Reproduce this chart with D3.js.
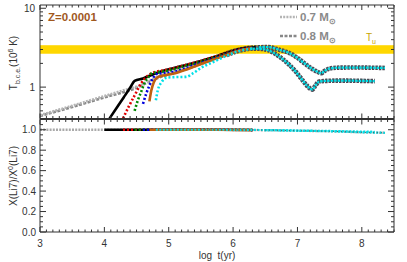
<!DOCTYPE html>
<html><head><meta charset="utf-8">
<script src="https://cdn.jsdelivr.net/npm/d3@7"></script>
<style>body{margin:0;background:#fff} svg{display:block;font-family:"Liberation Sans",Arial,sans-serif}</style>
</head><body><svg id="c" width="407" height="262"></svg>
<script>
// ---------- data ----------
const xTickVals = [3, 4, 5, 6, 7, 8];
const yTopTickVals = [1, 10];
const yBotTickVals = [0, 0.2, 0.4, 0.6, 0.8, 1.0];
const bandT = [2.65, 3.4];

// standard tracks (log t, T_bce in 10^6 K)
const t07 = [3.0, 3.5, 4.0, 4.3, 4.55, 4.7, 4.85, 5.0, 5.2, 5.4, 5.6, 5.8, 6.0, 6.2, 6.4, 6.55, 6.7, 6.88, 7.0, 7.11, 7.22, 7.3, 7.37, 7.42, 7.5, 7.6, 7.8, 8.0, 8.2, 8.36];
const T07 = [0.44, 0.58, 0.77, 0.91, 1.05, 1.2, 1.38, 1.55, 1.75, 1.95, 2.2, 2.5, 2.85, 3.1, 3.2, 3.22, 3.0, 2.69, 2.35, 2.0, 1.72, 1.58, 1.5, 1.6, 1.72, 1.76, 1.77, 1.77, 1.76, 1.75];
const t08 = [3.0, 3.5, 4.0, 4.5, 4.8, 5.0, 5.3, 5.6, 5.9, 6.1, 6.3, 6.45, 6.54, 6.7, 6.88, 6.98, 7.08, 7.16, 7.23, 7.28, 7.34, 7.45, 7.7, 8.0, 8.2];
const T08 = [0.43, 0.56, 0.74, 0.98, 1.28, 1.45, 1.72, 2.1, 2.55, 2.9, 3.08, 3.05, 2.94, 2.5, 1.89, 1.55, 1.22, 1.02, 0.93, 1.05, 1.18, 1.2, 1.21, 1.2, 1.19];

// accreting models (early parts)
const tBlack = [4.08, 4.2, 4.3, 4.4, 4.47, 4.6, 4.8, 5.0, 5.2, 5.5, 5.8, 6.0, 6.2, 6.35];
const TBlack = [0.40, 0.56, 0.74, 0.98, 1.2, 1.29, 1.5, 1.68, 1.85, 2.15, 2.55, 2.9, 3.12, 3.2];
const tRed = [4.29, 4.38, 4.47, 4.57, 4.68, 4.78, 4.9, 5.0, 5.2, 5.5, 5.8, 6.1, 6.3];
const TRed = [0.40, 0.57, 0.785, 1.11, 1.41, 1.55, 1.62, 1.68, 1.85, 2.15, 2.55, 3.0, 3.17];
const tGreen = [4.47, 4.52, 4.57, 4.62, 4.68, 4.73, 4.85, 5.0, 5.2, 5.5, 5.8, 6.1, 6.3];
const TGreen = [0.5, 0.68, 0.865, 1.11, 1.32, 1.48, 1.55, 1.62, 1.8, 2.1, 2.5, 2.95, 3.15];
const tBlue = [4.6, 4.65, 4.7, 4.75, 4.83, 4.95, 5.1, 5.3, 5.6, 5.9, 6.1, 6.3];
const TBlue = [0.615, 0.824, 1.05, 1.28, 1.48, 1.5, 1.58, 1.78, 2.15, 2.6, 2.95, 3.12];
const tOrange = [4.70, 4.73, 4.77, 4.83, 4.95, 5.1, 5.3, 5.6, 5.9, 6.1, 6.3];
const TOrange = [0.66, 0.91, 1.16, 1.34, 1.42, 1.5, 1.7, 2.1, 2.55, 2.92, 3.1];
const tCyan = [4.80, 4.83, 4.89, 4.97, 5.1, 5.27, 5.38, 5.5, 5.7, 5.9, 6.1, 6.3];
const TCyan = [0.68, 0.91, 1.16, 1.32, 1.34, 1.35, 1.5, 1.75, 2.1, 2.5, 2.88, 3.08];

// lithium ratio
const liGreyT = [3.0, 4.0, 5.0, 6.0, 6.5, 7.0, 7.5, 8.0, 8.36];
const liGreyV = [1.0, 1.0, 1.0, 0.998, 0.995, 0.99, 0.985, 0.975, 0.97];
const liBlackT = [4.0, 4.6, 5.5, 6.3];
const liBlackV = [1.0, 1.0, 1.0, 0.998];
const liRedT = [4.29, 5.0, 6.3];
const liRedV = [1.0, 1.0, 0.998];
const liGreenT = [4.47, 5.0, 6.3];
const liGreenV = [1.0, 1.0, 0.998];
const liBlueT = [4.6, 5.3, 6.3];
const liBlueV = [1.0, 1.0, 0.998];
const liOrangeT = [4.7, 5.3, 6.3];
const liOrangeV = [1.0, 1.0, 0.998];
const liCyanT = [4.8, 5.5, 6.5, 7.0, 7.5, 8.0, 8.36];
const liCyanV = [1.0, 1.0, 0.997, 0.99, 0.985, 0.975, 0.97];
const liCyan8T = [6.5, 7.0, 7.5, 8.0, 8.2];
const liCyan8V = [0.997, 0.992, 0.988, 0.982, 0.98];

// ---------- layout ----------
const L = 40, R = 394, T1 = 5, B1 = 118.5, T2 = 119.5, B2 = 232;
const svg = d3.select("#c");
const x = d3.scaleLinear([3, 8.5], [L, R]);
const yT = d3.scaleLog([0.4, 11], [B1, T1]);
const yL = d3.scaleLinear([0, 1.1], [B2, T2]);

const defs = svg.append("defs");
defs.append("clipPath").attr("id", "cp1").append("rect").attr("x", L).attr("y", T1).attr("width", R - L).attr("height", B1 - T1);
defs.append("clipPath").attr("id", "cp2").append("rect").attr("x", L).attr("y", T2).attr("width", R - L).attr("height", B2 - T2);

const g1 = svg.append("g").attr("clip-path", "url(#cp1)");
const g2 = svg.append("g").attr("clip-path", "url(#cp2)");

// band
g1.append("rect").attr("x", L).attr("width", R - L)
  .attr("y", yT(bandT[1])).attr("height", yT(bandT[0]) - yT(bandT[1]))
  .attr("fill", "#ffd700");

const zip = (a, b) => a.map((v, i) => [v, b[i]]);
const lineT = d3.line().x(d => x(d[0])).y(d => yT(d[1])).curve(d3.curveMonotoneX);
const lineL = d3.line().x(d => x(d[0])).y(d => yL(d[1])).curve(d3.curveMonotoneX);

function draw(g, gen, data, color, w, dash) {
  g.append("path").attr("d", gen(data)).attr("fill", "none")
    .attr("stroke", color).attr("stroke-width", w)
    .attr("stroke-dasharray", dash || null).attr("stroke-linejoin", "round");
}

// tracks
const d07 = zip(t07, T07), d08 = zip(t08, T08);
draw(g1, lineT, d08, "#888", 2.6, "3,1.5");
draw(g1, lineT, d07, "#b4b4b4", 2.6, "2,1.2");
// branch outlines
draw(g1, lineT, d07.filter(d => d[0] >= 5.8), "#4a4a55", 4.6, "2.5,1");
draw(g1, lineT, d08.filter(d => d[0] >= 5.8), "#4a4a55", 4.6, "2.5,1");

// models
draw(g1, lineT, zip(tBlack, TBlack), "#000", 2.6);
draw(g1, lineT, zip(tRed, TRed), "#e00000", 2.6, "2,2");
draw(g1, lineT, zip(tGreen, TGreen), "#008800", 2.6, "2,2");
draw(g1, lineT, zip(tBlue, TBlue), "#0000dd", 2.6, "2,2");
draw(g1, lineT, zip(tOrange, TOrange), "#c06010", 2.6);
draw(g1, lineT, zip(tCyan, TCyan), "#00e0e8", 2.6, "2,2");
draw(g1, lineT, d07.filter(d => d[0] >= 6.3), "#00e0e8", 2.2, "2.5,1");
draw(g1, lineT, d08.filter(d => d[0] >= 6.3), "#00e0e8", 2.2, "2.5,1");

// lithium
draw(g2, lineL, zip(liGreyT, liGreyV), "#aaa", 2.4, "2,1.2");
draw(g2, lineL, zip(liBlackT, liBlackV), "#000", 2.4);
draw(g2, lineL, zip(liRedT, liRedV), "#e00000", 2.4, "2,2");
draw(g2, lineL, zip(liGreenT, liGreenV), "#008800", 2.4, "2,2");
draw(g2, lineL, zip(liBlueT, liBlueV), "#0000dd", 2.4, "2,2");
draw(g2, lineL, zip(liOrangeT, liOrangeV), "#c06010", 2.4);
draw(g2, lineL, zip(liCyan8T, liCyan8V), "#00e0e8", 2.2, "2,1.5");
draw(g2, lineL, zip(liCyanT, liCyanV), "#00e0e8", 2.2, "2,1.5");
draw(g2, lineL, zip(liCyanT, liCyanV).filter(d => d[0] >= 5.0), "#555", 1, "1,3");

// ---------- axes ----------
const ax = svg.append("g").attr("stroke", "#333").attr("stroke-width", 1);
function hline(y) { ax.append("line").attr("x1", L).attr("x2", R).attr("y1", y).attr("y2", y); }
function vline(xx, y1, y2) { ax.append("line").attr("x1", xx).attr("x2", xx).attr("y1", y1).attr("y2", y2); }
hline(T1); hline(B1); hline(T2); hline(B2);
vline(L, T1, B2); vline(R, T1, B2);

// x ticks on all horizontal axes
const xMinor = d3.range(30, 86).map(v => v / 10);
[[T1, 1], [B1, -1], [T2, 1], [B2, -1]].forEach(([yy, dir]) => {
  xMinor.forEach(v => {
    const major = Math.abs(v - Math.round(v)) < 1e-6;
    const len = major ? 5 : 2.5;
    ax.append("line").attr("x1", x(v)).attr("x2", x(v)).attr("y1", yy).attr("y2", yy + dir * len);
  });
});
// top y ticks
const yTMinor = [0.4, 0.5, 0.6, 0.7, 0.8, 0.9, 1, 2, 3, 4, 5, 6, 7, 8, 9, 10];
yTMinor.forEach(v => {
  const major = yTopTickVals.includes(v);
  const len = major ? 6 : 3;
  ax.append("line").attr("x1", L).attr("x2", L + len).attr("y1", yT(v)).attr("y2", yT(v));
  ax.append("line").attr("x1", R).attr("x2", R - len).attr("y1", yT(v)).attr("y2", yT(v));
});
// bottom y ticks
d3.range(0, 23).map(i => i * 0.05).forEach(v => {
  const major = yBotTickVals.some(t => Math.abs(t - v) < 1e-6);
  const len = major ? 6 : 3;
  ax.append("line").attr("x1", L).attr("x2", L + len).attr("y1", yL(v)).attr("y2", yL(v));
  ax.append("line").attr("x1", R).attr("x2", R - len).attr("y1", yL(v)).attr("y2", yL(v));
});

// labels
const txt = svg.append("g").attr("fill", "#333").attr("font-size", 10);
xTickVals.forEach(v => txt.append("text").attr("x", x(v)).attr("y", 247).attr("text-anchor", "middle").text(v));
yTopTickVals.forEach(v => txt.append("text").attr("x", 35).attr("y", yT(v) + 3.5).attr("text-anchor", "end").text(v));
yBotTickVals.forEach(v => txt.append("text").attr("x", 36).attr("y", yL(v) + 3.5).attr("text-anchor", "end").text(v.toFixed(1)));

txt.append("text").attr("x", 217).attr("y", 259).attr("text-anchor", "middle").attr("xml:space", "preserve").text("log  t(yr)");

const yl1 = txt.append("text").attr("transform", "translate(17,63) rotate(-90)").attr("text-anchor", "middle");
yl1.append("tspan").text("T");
yl1.append("tspan").attr("font-size", 7).attr("dy", 2.5).text("b.c.e.");
yl1.append("tspan").attr("dy", -2.5).text("(10");
yl1.append("tspan").attr("font-size", 7).attr("dy", -4).text("6");
yl1.append("tspan").attr("dy", 4).text(" K)");

const yl2 = txt.append("text").attr("transform", "translate(17,176) rotate(-90)").attr("text-anchor", "middle");
yl2.append("tspan").text("X(Li7)/X");
yl2.append("tspan").attr("font-size", 7).attr("dy", -4).text("0");
yl2.append("tspan").attr("dy", 4).text("(Li7)");

// annotations
svg.append("text").attr("x", 48).attr("y", 21).attr("font-size", 11.5).attr("font-weight", "bold").attr("fill", "#a0581e").text("Z=0.0001");

const tu = svg.append("text").attr("x", 366).attr("y", 41).attr("font-size", 10).attr("fill", "#c8a400");
tu.append("tspan").text("T");
tu.append("tspan").attr("font-size", 7).attr("dy", 2.5).text("u");

// legend
const leg = [["0.7", "#b4b4b4", "2,1.2", 17], ["0.8", "#888", "3,1.5", 36]];
leg.forEach(([m, c, dash, yy]) => {
  svg.append("line").attr("x1", 280).attr("x2", 297).attr("y1", yy).attr("y2", yy)
    .attr("stroke", c).attr("stroke-width", 2.6).attr("stroke-dasharray", dash);
  const t = svg.append("text").attr("x", 300).attr("y", yy + 4).attr("font-size", 11.5).attr("font-weight", "bold").attr("fill", "#8a8a8a");
  t.append("tspan").text(m + " M");
  t.append("tspan").attr("font-size", 8).attr("dy", 3).text("⊙");
});
</script>
</body></html>
